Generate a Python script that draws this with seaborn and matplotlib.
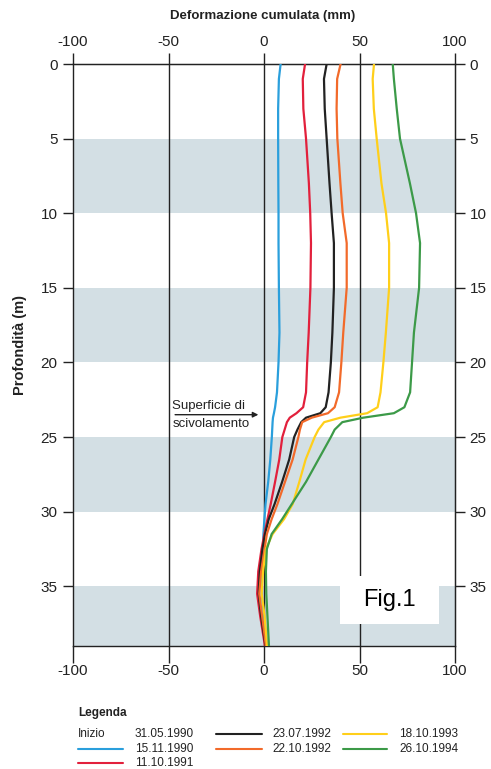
import numpy as np
import pandas as pd
import matplotlib
matplotlib.use("Agg")
import matplotlib.pyplot as plt
import seaborn as sns
from matplotlib.patches import Rectangle
from matplotlib.lines import Line2D

# ---------------- data ----------------
depth = [0, 1, 3, 5, 8, 10, 12, 15, 18, 20, 22, 23, 23.4, 23.7, 24, 24.5, 25,
         26.5, 28, 29.5, 30.5, 31.5, 32.5, 34, 35.5, 37, 39]

disp_15_11_1990 = [8.7, 7.8, 7.4, 7.4, 7.5, 7.6, 7.6, 7.8, 8.1, 7.6, 6.8, 5.8, 5.2, 4.7, 4.5, 4.3, 4.1,
                   3.3, 2.2, 0.8, 0.2, -0.3, -0.6, -1.0, -1.2, 0.0, 1.5]
disp_11_10_1991 = [21.5, 20.3, 20.6, 22.0, 23.5, 24.2, 24.6, 24.3, 23.4, 22.6, 22.0, 20.5, 17.0, 13.5, 12.0, 10.8, 9.6,
                   8.0, 5.8, 3.5, 1.8, 0.2, -1.3, -3.0, -3.6, -2.0, 0.5]
disp_23_07_1992 = [32.8, 31.4, 31.8, 32.8, 34.3, 35.4, 36.6, 36.6, 35.8, 35.0, 33.8, 32.3, 29.5, 22.0, 19.5, 17.5, 15.8,
                   13.2, 9.5, 5.5, 2.5, 0.5, -0.8, -2.2, -2.8, -1.5, 0.8]
disp_22_10_1992 = [40.1, 38.3, 38.0, 38.4, 40.0, 41.2, 43.3, 43.3, 41.5, 40.5, 39.3, 37.0, 33.5, 25.0, 20.0, 18.8, 18.0,
                   15.0, 11.0, 7.0, 4.0, 1.5, 0.3, -1.5, -2.5, -1.0, 1.0]
disp_18_10_1993 = [57.6, 56.9, 57.5, 59.0, 61.5, 63.9, 65.5, 65.5, 63.8, 62.5, 61.0, 59.5, 54.0, 40.0, 31.5, 28.5, 26.5,
                   21.8, 18.5, 15.0, 10.5, 4.5, 1.0, -0.5, -1.2, 0.3, 1.6]
disp_26_10_1994 = [67.4, 68.0, 69.5, 71.2, 76.4, 79.6, 81.7, 81.2, 78.5, 77.5, 76.5, 73.5, 68.0, 52.0, 41.0, 37.0, 35.0,
                   28.5, 22.0, 14.5, 9.5, 4.0, 1.5, 1.0, 1.2, 1.8, 2.6]

dates = ["15.11.1990", "11.10.1991", "23.07.1992", "22.10.1992", "18.10.1993", "26.10.1994"]
series = [disp_15_11_1990, disp_11_10_1991, disp_23_07_1992,
          disp_22_10_1992, disp_18_10_1993, disp_26_10_1994]
colors = ["#2a9fdc", "#e2203c", "#222222", "#f26a2a", "#ffcf1a", "#3c9a48"]

x_ticks = [-100, -50, 0, 50, 100]
y_ticks = [0, 5, 10, 15, 20, 25, 30, 35]
bands = [(5, 10), (15, 20), (25, 30), (35, 39)]
start_label = "31.05.1990"

rows = []
for d, vals in zip(dates, series):
    for z, v in zip(depth, vals):
        rows.append({"date": d, "depth": z, "disp": v})
df = pd.DataFrame(rows)

# ---------------- style ----------------
sns.set_style("white")
plt.rcParams["font.family"] = ["Liberation Sans", "DejaVu Sans"]
plt.rcParams["axes.unicode_minus"] = False
INK = "#222222"

W, H = 491, 769
fig = plt.figure(figsize=(W / 100, H / 100), dpi=100)
ax = fig.add_axes([73 / W, 1 - 646 / H, 382 / W, 582 / H])

for a, b in bands:
    ax.axhspan(a, b, color="#d3dfe4", lw=0, zorder=0)
for x in [-50, 0, 50]:
    ax.axvline(x, color=INK, lw=1.0, zorder=1)

sns.lineplot(data=df, x="disp", y="depth", hue="date", hue_order=dates,
             palette=dict(zip(dates, colors)), orient="y", estimator=None,
             sort=True, lw=1.6, legend=False, ax=ax, zorder=3)

ax.set_xlim(-100, 100)
ax.set_ylim(39, 0)
ax.set_xlabel("")
ax.set_ylabel("")
for s in ax.spines.values():
    s.set_color(INK)
    s.set_linewidth(1.0)

ax.set_xticks(x_ticks)
ax.set_yticks(y_ticks)
ax.tick_params(axis="x", bottom=True, top=False, length=12, width=1, pad=1,
               labelsize=11, color=INK, labelcolor=INK)
ax.tick_params(axis="y", left=True, right=False, length=7.2, width=1, pad=4,
               labelsize=11, color=INK, labelcolor=INK)

secx = ax.secondary_xaxis("top")
secx.set_xticks(x_ticks)
secx.tick_params(axis="x", top=True, length=8, width=1, pad=3, labelsize=11,
                 color=INK, labelcolor=INK)
secx.spines["top"].set_color(INK)

secy = ax.secondary_yaxis("right")
secy.set_yticks(y_ticks)
secy.tick_params(axis="y", right=True, length=7.5, width=1, pad=3, labelsize=11,
                 color=INK, labelcolor=INK)
secy.spines["right"].set_color(INK)

# slip surface annotation
ax.annotate("", xy=(-1.5, 23.5), xytext=(-48, 23.5),
            arrowprops=dict(arrowstyle="-|>", color=INK, lw=1.0, mutation_scale=8),
            zorder=4)
ax.text(-48, 23.3, "Superficie di", ha="left", va="bottom", fontsize=9.5,
        color=INK)
ax.text(-48, 23.7, "scivolamento", ha="left", va="top", fontsize=9.5,
        color=INK)

# Fig.1 box
ax.add_patch(Rectangle((39.8, 34.3), 51.8, 3.2, facecolor="white",
                       edgecolor="none", zorder=5))
ax.text(65.7, 35.95, "Fig.1", ha="center", va="center", fontsize=17,
        color="black", zorder=6)

# titles
fig.text(263 / W, 1 - 16 / H, "Deformazione cumulata (mm)", ha="center",
         va="center", fontsize=9.5, fontweight="bold", color=INK)
fig.text(20 / W, 1 - 345 / H, "Profondità (m)", ha="center", va="center",
         rotation=90, fontsize=10.5, fontweight="bold", color=INK)

# legend
LFS = 8.5
fig.text(78 / W, 1 - 713 / H, "Legenda", ha="left", va="center", fontsize=8.5,
         fontweight="bold", color=INK)
fig.text(78 / W, 1 - 734 / H, "Inizio", ha="left", va="center", fontsize=LFS,
         color=INK)
fig.text(135 / W, 1 - 734 / H, start_label, ha="left", va="center", fontsize=LFS,
         color=INK)
leg_pos = [(78, 123, 135, 749), (78, 123, 135, 763),
           (216, 262, 272, 734), (216, 262, 272, 749),
           (343, 387, 399, 734), (343, 387, 399, 749)]
for (x0, x1, xt, y), d, c in zip(leg_pos, dates, colors):
    fig.add_artist(Line2D([x0 / W, x1 / W], [1 - y / H, 1 - y / H], color=c, lw=1.5,
                          transform=fig.transFigure))
    fig.text(xt / W, 1 - y / H, d, ha="left", va="center", fontsize=LFS,
             color=INK)

fig.savefig("out.png", dpi=100, facecolor="white")
